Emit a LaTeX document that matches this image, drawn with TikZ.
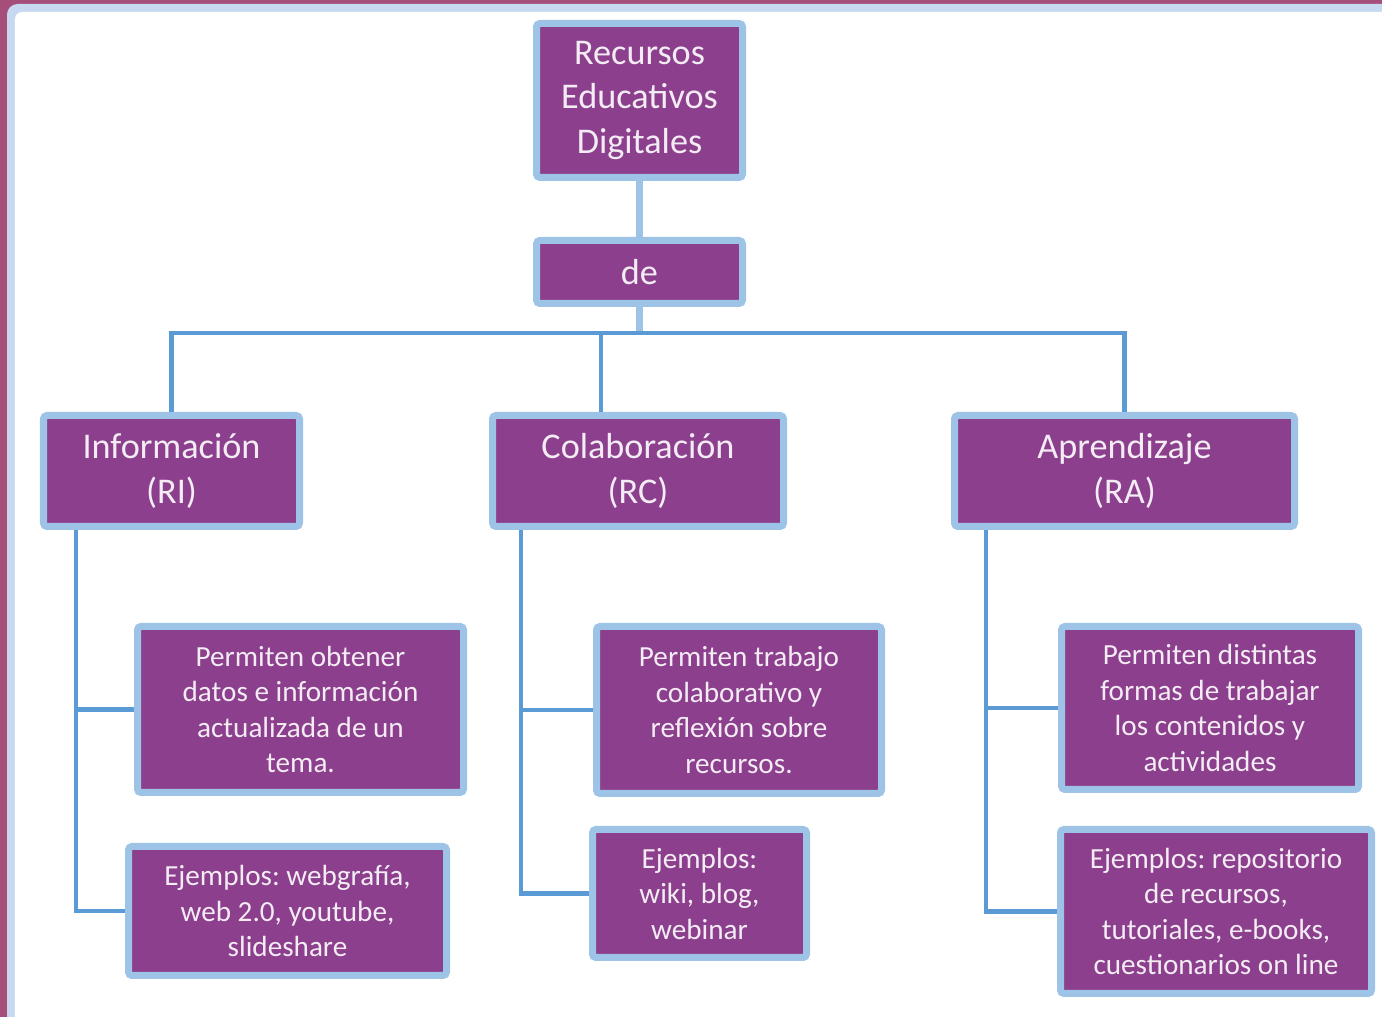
\documentclass[tikz,border=0pt]{standalone}
\usepackage{fontspec}
\setmainfont{Carlito}
\usetikzlibrary{positioning, calc}
\definecolor{marco}{HTML}{A54E7A}
\definecolor{marcoazul}{HTML}{C6D9F1}
\definecolor{morado}{HTML}{8C3F8C}
\definecolor{bordeazul}{HTML}{9DC3E6}
\definecolor{lineaazul}{HTML}{5B9BD5}
\definecolor{textoc}{HTML}{F4ECF4}
\frenchspacing
\tikzset{
  caja/.style={rectangle, rounded corners=1pt, draw=bordeazul, fill=morado, line width=0.07cm,
               text=textoc, align=center, inner sep=1pt, text centered},
  cajag/.style={caja, font=\fontsize{10.3}{12.6}\selectfont},
  cajap/.style={caja, font=\fontsize{8.3}{10.1}\selectfont},
  conector/.style={line width=1.3pt, draw=lineaazul},
  conectorc/.style={line width=0.07cm, draw=bordeazul}
}
\begin{document}
\begin{tikzpicture}
  \useasboundingbox (0,0) rectangle (13.82,-10.17);
  \clip (0,0) rectangle (13.82,-10.17);
  % marco
  \fill[marco] (0,0) rectangle (13.82,-10.17);
  \fill[marcoazul, rounded corners=3pt] (0.07,-0.04) rectangle (14.3,-10.6);
  \fill[white, rounded corners=2pt] (0.15,-0.12) rectangle (14.3,-10.6);

  \node (rec) [cajag, minimum width=2.06cm, minimum height=1.54cm] at (6.395,-1.005) {Recursos\\Educativos\\Digitales};
  \node (de) [cajag, minimum width=2.06cm, minimum height=0.63cm] at (6.395,-2.72) {de};

  \node (info) [cajag, minimum width=2.56cm, minimum height=1.11cm] at (1.715,-4.71) {Información\\(RI)};
  \node (colab) [cajag, minimum width=2.91cm, minimum height=1.11cm] at (6.38,-4.71) {Colaboración\\(RC)};
  \node (aprend) [cajag, minimum width=3.40cm, minimum height=1.11cm] at (11.245,-4.71) {Aprendizaje\\(RA)};

  \node (info1) [cajap, minimum width=3.26cm, minimum height=1.66cm] at (3.005,-7.095) {Permiten obtener\\datos e información\\actualizada de un\\tema.};
  \node (info2) [cajap, minimum width=3.18cm, minimum height=1.29cm] at (2.875,-9.11) {Ejemplos: webgrafía,\\web 2.0, youtube,\\slideshare};
  \node (colab1) [cajap, minimum width=2.85cm, minimum height=1.67cm] at (7.39,-7.10) {Permiten trabajo\\colaborativo y\\reflexión sobre\\recursos.};
  \node (colab2) [cajap, minimum width=2.14cm, minimum height=1.28cm] at (6.995,-8.935) {Ejemplos:\\wiki, blog,\\webinar};
  \node (aprend1) [cajap, minimum width=2.97cm, minimum height=1.63cm] at (12.10,-7.08) {Permiten distintas\\formas de trabajar\\los contenidos y\\actividades};
  \node (aprend2) [cajap, minimum width=3.11cm, minimum height=1.64cm] at (12.16,-9.115) {Ejemplos: repositorio\\de recursos,\\tutoriales, e-books,\\cuestionarios on line};

  % conexiones
  \coordinate (bus) at (6.395,-3.33);
  \draw [conectorc] (rec.south) -- (de.north);
  \draw [conectorc] (de.south) -- (bus);
  \draw [conector] (info.north) |- (bus) -| (aprend.north);
  \draw [conector] ([xshift=-0.37cm]colab.north) -- ([xshift=-0.37cm]colab.north |- bus);

  \coordinate (ti) at ([xshift=0.36cm]info.south west);
  \coordinate (tc) at ([xshift=0.32cm]colab.south west);
  \coordinate (ta) at ([xshift=0.35cm]aprend.south west);
  \draw [conector] (ti) |- (info2.west);
  \draw [conector] (ti |- info1.west) -- (info1.west);
  \draw [conector] (tc) |- (colab2.west);
  \draw [conector] (tc |- colab1.west) -- (colab1.west);
  \draw [conector] (ta) |- (aprend2.west);
  \draw [conector] (ta |- aprend1.west) -- (aprend1.west);
\end{tikzpicture}
\end{document}
